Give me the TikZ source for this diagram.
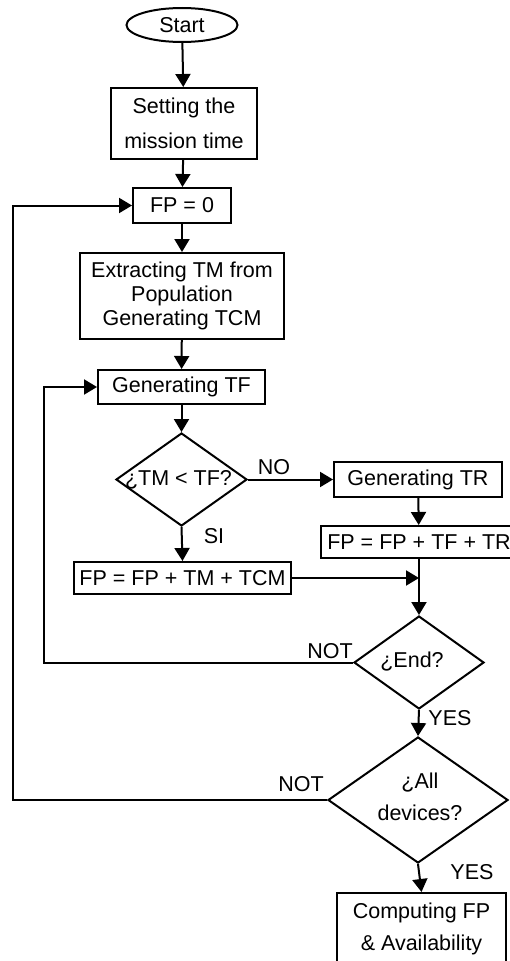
\documentclass[tikz,border=0pt]{standalone}
\usepackage{fontspec}
\setmainfont{Liberation Sans}
\usetikzlibrary{shapes.geometric,arrows.meta}
\begin{document}
\begin{tikzpicture}[x=1pt,y=-1pt,
  every node/.style={font=\fontsize{21.5}{25}\selectfont},
  box/.style={draw, line width=2pt, rectangle, inner sep=0pt, align=center},
  dia/.style={draw, line width=2pt, diamond, inner sep=0pt},
  flow/.style={line width=2pt, -{Triangle[length=13pt,width=15pt]}},
  lbl/.style={inner sep=0pt}]
\fill[white] (0,0) rectangle (509,961);
\useasboundingbox (0,0) rectangle (509,961);
% nodes
\node[draw, line width=2pt, ellipse, inner sep=0pt, minimum width=111pt, minimum height=34pt] (start) at (182,25) {Start};
\node[box, minimum width=146pt, minimum height=71pt, font=\fontsize{21.5}{35}\selectfont] (setting) at (184,123.5) {Setting the\\mission time};
\node[box, minimum width=98pt, minimum height=35pt] (fp0) at (182,205.5) {FP = 0};
\node[box, minimum width=204pt, minimum height=86pt, font=\fontsize{21.5}{24}\selectfont] (extract) at (182,296) {Extracting TM from\\Population\\Generating TCM};
\node[box, minimum width=167pt, minimum height=34pt] (gentf) at (181.5,387) {Generating TF};
\node[dia, minimum width=131pt, minimum height=93pt] (dtm) at (181.5,479.5) {};
\node[lbl] (dtmtxt) at (178.5,480) {¿TM < TF?};
\node[box, minimum width=168pt, minimum height=35pt] (gentr) at (418,479.5) {Generating TR};
\node[box, minimum width=196pt, minimum height=32pt] (fptr) at (419,542) {FP = FP + TF + TR};
\node[box, minimum width=217pt, minimum height=32pt] (fptm) at (182.5,578) {FP = FP + TM + TCM};
\node[dia, minimum width=130pt, minimum height=93pt] (dend) at (419,662.5) {};
\node[lbl] (dendtxt) at (412,662) {¿End?};
\node[dia, minimum width=180pt, minimum height=126pt] (dall) at (418,800) {};
\node[lbl, align=center, font=\fontsize{21.5}{32}\selectfont] (dalltxt) at (420,797) {¿All\\devices?};
\node[box, minimum width=169pt, minimum height=72pt, font=\fontsize{21.5}{32}\selectfont] (comp) at (421.5,929) {Computing FP\\\& Availability};
% labels
\node[lbl] (no) at (274,467) {NO};
\node[lbl] (si) at (214,536) {SI};
\node[lbl] (not1) at (330,651) {NOT};
\node[lbl] (yes1) at (450,718) {YES};
\node[lbl] (not2) at (301,784) {NOT};
\node[lbl] (yes2) at (472,872) {YES};
% coordinates
\coordinate (loopin) at (44,662.5);
\coordinate (loopout) at (13,800);
\coordinate (join) at (fptr.south |- fptm.east);
% connectors
\draw[flow] (start) -- (setting);
\draw[flow] (setting) -- (fp0);
\draw[flow] (fp0) -- (extract);
\draw[flow] (extract) -- (gentf);
\draw[flow] (gentf) -- (dtm);
\draw[flow] (dtm.east) -- (gentr.west);
\draw[flow] (dtm.south) -- (fptm.north);
\draw[flow] (gentr) -- (fptr);
\draw[flow] (fptr.south) -- (dend.north);
\draw[flow] (fptm.east) -- (join);
\draw[flow] (dend.west) -- (loopin) |- (gentf.west);
\draw[flow] (dend.south) -- (dall.north);
\draw[flow] (dall.west) -- (loopout) |- (fp0.west);
\draw[flow] (dall.south) -- (comp.north);
\end{tikzpicture}
\end{document}
